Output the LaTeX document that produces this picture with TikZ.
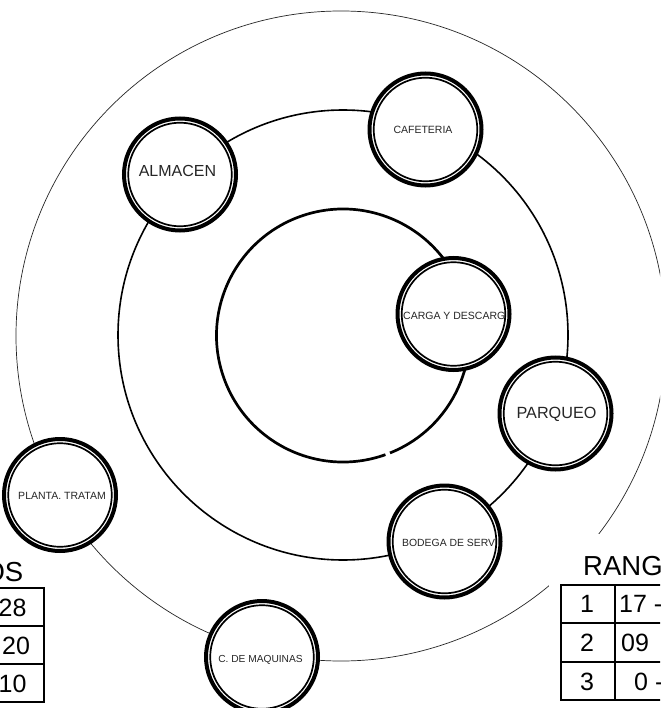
\documentclass[tikz,border=0pt]{standalone}
\usepackage{fontspec}
\setmainfont{Liberation Sans}
\begin{document}
\begin{tikzpicture}[x=1pt,y=-1pt,
  room/.style={circle, draw=black, line width=4pt, fill=white, minimum size=112pt, inner sep=0pt},
  ring/.style={line width=1.7pt},
  lbl/.style={inner sep=0pt, text=black!85, anchor=base},
  tbl/.style={line width=1.8pt},
  num/.style={inner sep=0pt, anchor=base, font=\fontsize{25}{25}\selectfont},
  head/.style={inner sep=0pt, font=\fontsize{27.5}{27.5}\selectfont},
]
\useasboundingbox (0,0) rectangle (660,708);
\clip (0,0) rectangle (660,708);
\fill[white] (0,0) rectangle (660,708);

% concentric rings
\coordinate (cOuter) at (341,336);
\coordinate (cMid) at (343,335);
\coordinate (cIn) at (343,335.5);
\draw[line width=0.7pt, black!85] (cOuter) circle[radius=325];
\draw[line width=1.6pt] (cMid) circle[radius=225];
\draw[line width=2.7pt] (cIn) ++(70.4:126.5) arc[start angle=70.4, end angle=428.2, radius=126.5];

% rooms
\node[room] (almacen) at (180,174.5) {};
\node[lbl, font=\fontsize{16}{16}\selectfont] (almacen-t) at (177.5,176.7) {ALMACEN};
\draw[ring] (almacen.center) circle[radius=51.8];

\node[room] (cafeteria) at (425.5,129.5) {};
\node[lbl, font=\fontsize{10.5}{10.5}\selectfont] (cafeteria-t) at (423,134) {CAFETERIA};
\draw[ring] (cafeteria.center) circle[radius=51.8];

\node[room] (carga) at (453.5,314) {};
\begin{scope}
  \clip (carga.center) circle[radius=51];
  \node[lbl, anchor=base west, font=\fontsize{10.5}{10.5}\selectfont] (carga-t) at (403,319.3) {CARGA Y DESCARG};
\end{scope}
\draw[ring] (carga.center) circle[radius=51.8];

\node[room] (parqueo) at (555.5,413.5) {};
\node[lbl, font=\fontsize{16.2}{16.2}\selectfont] (parqueo-t) at (556.5,418.3) {PARQUEO};
\draw[ring] (parqueo.center) circle[radius=51.8];

\node[room] (bodega) at (444.5,541.5) {};
\begin{scope}
  \clip (bodega.center) circle[radius=51];
  \node[lbl, anchor=base west, font=\fontsize{10.4}{10.4}\selectfont] (bodega-t) at (402,546.7) {BODEGA DE SERV};
\end{scope}
\draw[ring] (bodega.center) circle[radius=51.8];

\node[room] (planta) at (60,495) {};
\node[lbl, font=\fontsize{10.5}{10.5}\selectfont] (planta-t) at (62,499.3) {PLANTA. TRATAM};
\draw[ring] (planta.center) circle[radius=51.8];

\node[room] (maquinas) at (262,657) {};
\node[lbl, font=\fontsize{10.2}{10.2}\selectfont] (maquinas-t) at (260.5,662.3) {C. DE MAQUINAS};
\draw[ring] (maquinas.center) circle[radius=51.8];

% right table
\fill[white] (549,534) rectangle (670,710);
\node[head, anchor=base west] (rang) at (583,575) {RANG};
\draw[tbl] (670,585) -- (561,585) -- (561,700) -- (670,700);
\draw[tbl] (561,623) -- (670,623);
\draw[tbl] (561,662) -- (670,662);
\draw[tbl] (615,585) -- (615,700);
\node[num] (r1a) at (587,612.5) {1};
\node[num] (r2a) at (587,651) {2};
\node[num] (r3a) at (587,690) {3};
\node[num, anchor=base west] (r1b) at (619,612.5) {17 -};
\node[num, anchor=base west] (r2b) at (621,651) {09};
\node[num, anchor=base west] (r3b) at (634,690) {0 -};

% left table
\node[head, anchor=base east] (os) at (23.5,581) {OS};
\draw[tbl] (-10,588) -- (44,588) -- (44,702) -- (-10,702);
\draw[tbl] (-10,626) -- (44,626);
\draw[tbl] (-10,664) -- (44,664);
\node[num, anchor=base west] (l1) at (-1.5,616.5) {28};
\node[num, anchor=base west] (l2) at (2,654) {20};
\node[num, anchor=base west] (l3) at (-1.5,692) {10};
\end{tikzpicture}
\end{document}
